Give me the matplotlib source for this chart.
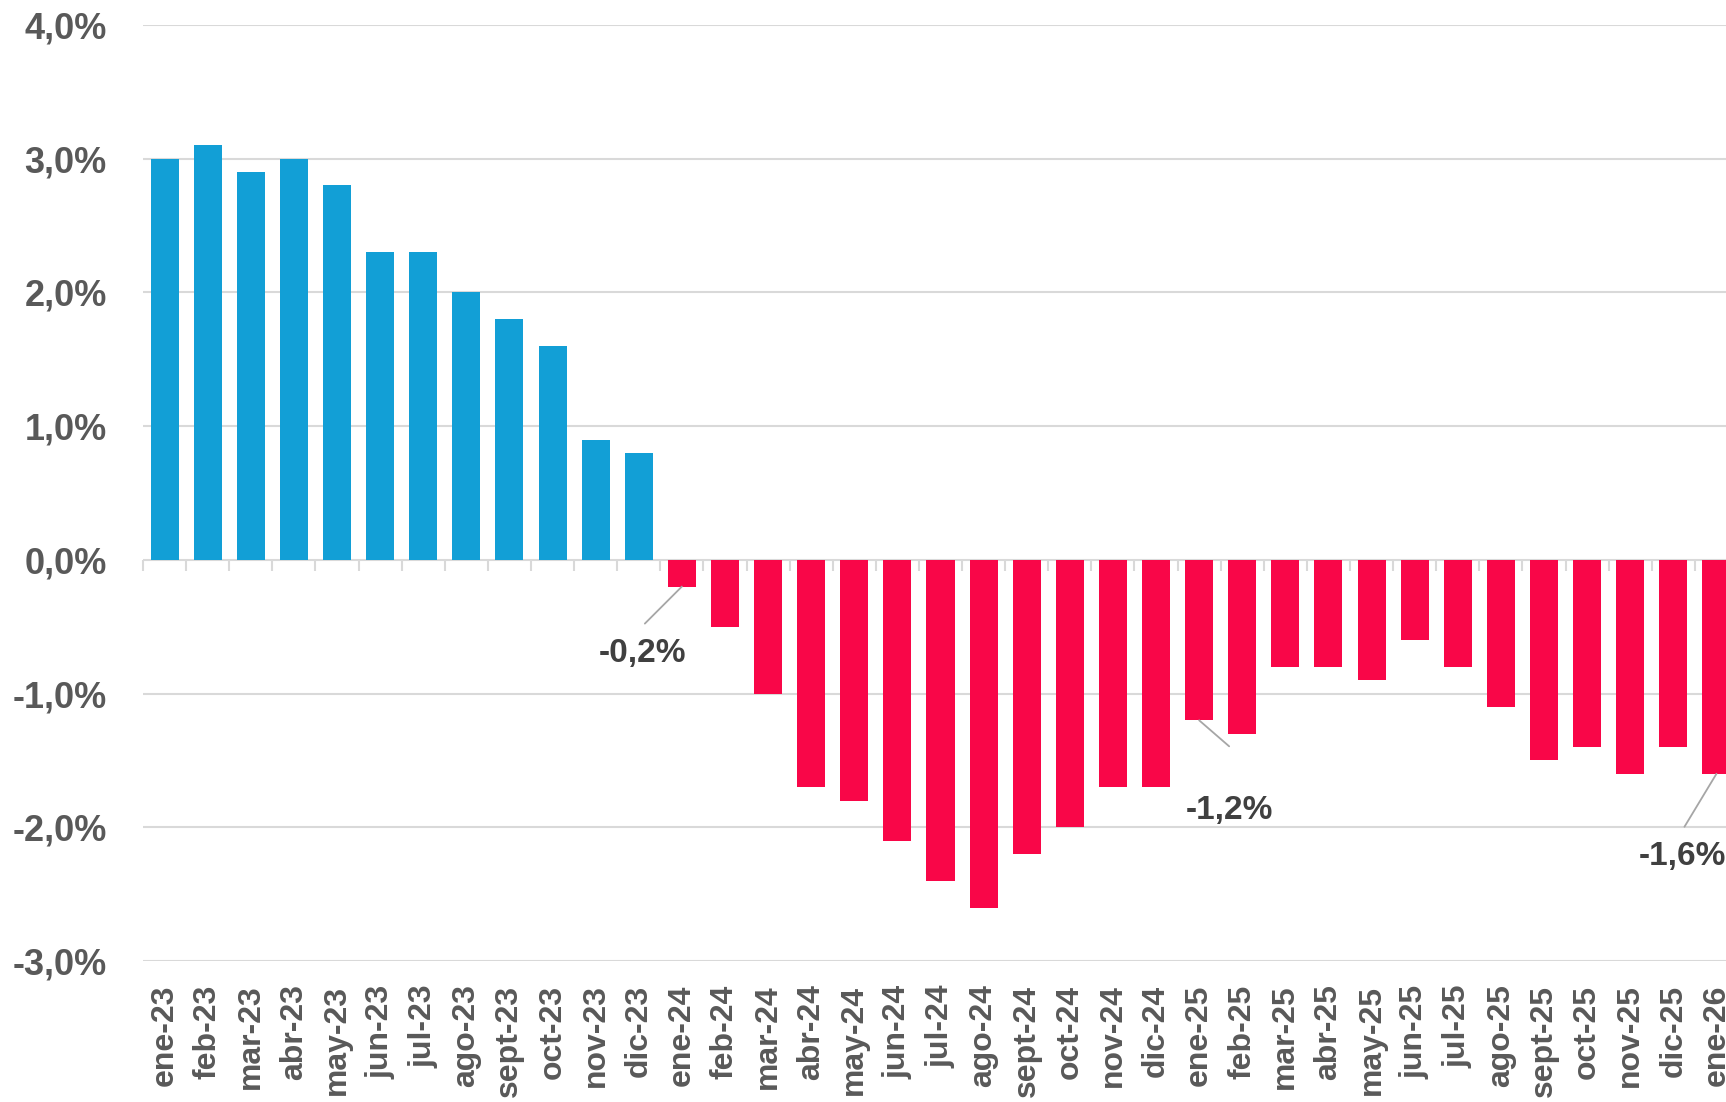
import matplotlib
matplotlib.use('Agg')
import matplotlib.pyplot as plt
import numpy as np

# meses y variación interanual (%)
meses = ['ene-23', 'feb-23', 'mar-23', 'abr-23', 'may-23', 'jun-23', 'jul-23', 'ago-23',
         'sept-23', 'oct-23', 'nov-23', 'dic-23',
         'ene-24', 'feb-24', 'mar-24', 'abr-24', 'may-24', 'jun-24', 'jul-24', 'ago-24',
         'sept-24', 'oct-24', 'nov-24', 'dic-24',
         'ene-25', 'feb-25', 'mar-25', 'abr-25', 'may-25', 'jun-25', 'jul-25', 'ago-25',
         'sept-25', 'oct-25', 'nov-25', 'dic-25', 'ene-26']
valores = [3.0, 3.1, 2.9, 3.0, 2.8, 2.3, 2.3, 2.0, 1.8, 1.6, 0.9, 0.8,
           -0.2, -0.5, -1.0, -1.7, -1.8, -2.1, -2.4, -2.6, -2.2, -2.0, -1.7, -1.7,
           -1.2, -1.3, -0.8, -0.8, -0.9, -0.6, -0.8, -1.1, -1.5, -1.4, -1.6, -1.4, -1.6]
# etiquetas destacadas: (mes, desplazamiento texto px, fin de la línea px)
destacados = {'ene-24': ((-39, -67), (-37, -37)),
              'ene-25': ((30, -90), (30, -26)),
              'ene-26': ((-34, -83), (-32, -53))}

plt.rcParams['font.family'] = ['Liberation Sans', 'DejaVu Sans']
plt.rcParams['font.weight'] = 'bold'

fig = plt.figure(figsize=(17.26, 11.02), dpi=100)
ax = fig.add_axes([143 / 1726, 141 / 1102, 1595 / 1726, 936 / 1102])

x = np.arange(len(meses))
vals = np.array(valores)
colores = np.where(vals >= 0, '#129FD6', '#F90648')
ax.bar(x, vals, width=0.65, color=colores, zorder=3)

ax.set_xlim(-0.5, len(meses) - 0.5)
ax.set_ylim(-3.0, 4.0)
ax.set_yticks(np.arange(-3, 5, 1))
ax.set_yticklabels([f'{v:.1f}%'.replace('.', ',') for v in np.arange(-3, 5, 1)])
ax.grid(axis='y', color='#d9d9d9', lw=1.5, zorder=0)
ax.set_axisbelow(True)

ax.set_xticks(x)
ax.set_xticklabels(meses, rotation=90)
ax.tick_params(axis='x', length=0, pad=17, labelsize=23, labelcolor='#595959')
ax.tick_params(axis='y', length=0, pad=26, labelsize=26, labelcolor='#595959')
for s in ax.spines.values():
    s.set_visible(False)

# marcas de categoría sobre el eje cero
bordes = np.arange(-0.5, len(meses), 1.0)
ax.plot(bordes, np.zeros_like(bordes), ls='none', marker=3, ms=8,
        mew=1.5, color='#d9d9d9', zorder=2, clip_on=False)

for mes, (txt_off, lin_off) in destacados.items():
    i = meses.index(mes)
    v = valores[i]
    ax.annotate('', xy=(i, v), xytext=lin_off, textcoords='offset pixels',
                arrowprops=dict(arrowstyle='-', color='#a6a6a6', lw=1.3,
                                shrinkA=0, shrinkB=0), annotation_clip=False)
    ax.annotate(f'{v:.1f}%'.replace('.', ','), xy=(i, v), xytext=txt_off,
                textcoords='offset pixels', ha='center', va='center',
                fontsize=24, fontweight='bold', color='#404040',
                annotation_clip=False)

fig.savefig('out.png', dpi=100)
